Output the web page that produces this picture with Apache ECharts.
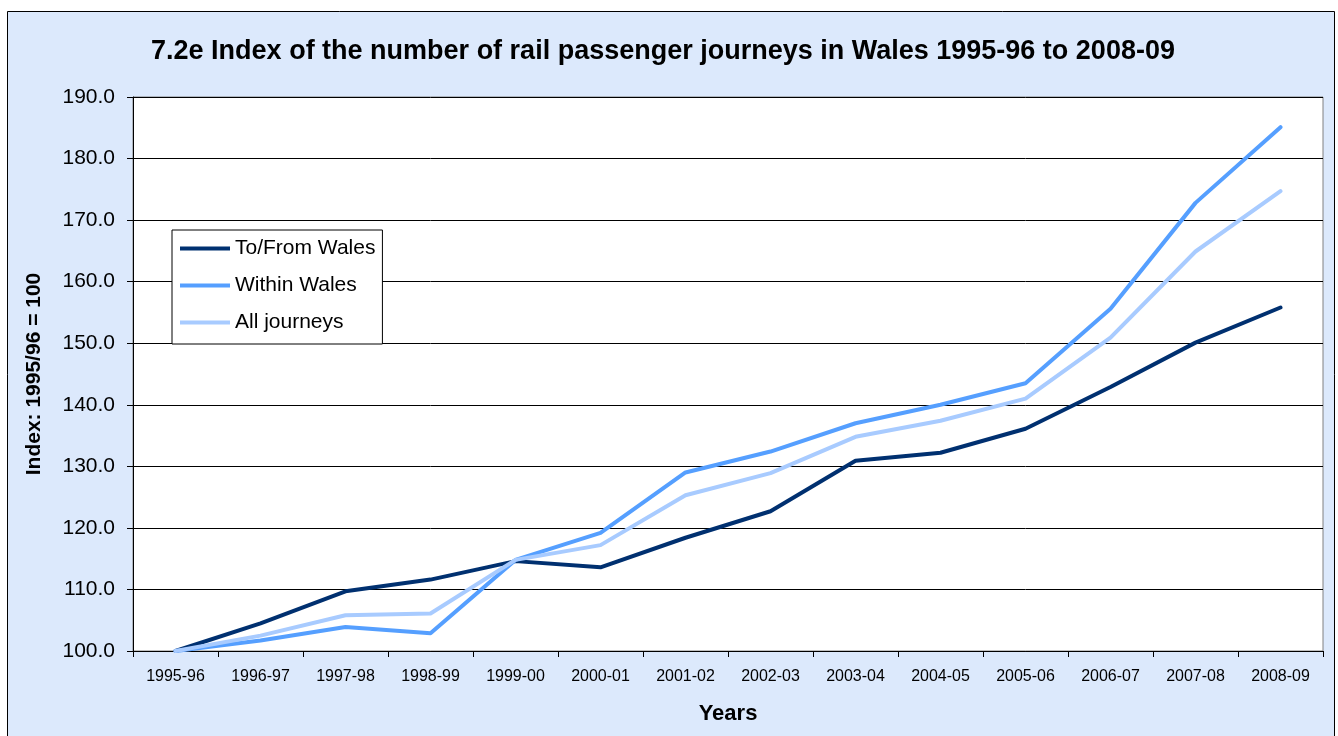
<!DOCTYPE html>
<html>
<head>
<meta charset="utf-8">
<script src="https://cdn.jsdelivr.net/npm/echarts@6/dist/echarts.min.js"></script>
<style>
html,body{margin:0;padding:0;background:#fff;}
#main{width:1338px;height:736px;}
</style>
</head>
<body>
<div id="main"></div>
<script>
const categories = ['1995-96','1996-97','1997-98','1998-99','1999-00','2000-01','2001-02','2002-03','2003-04','2004-05','2005-06','2006-07','2007-08','2008-09'];
const toFromWales = [100.0, 104.5, 109.7, 111.6, 114.6, 113.6, 118.4, 122.7, 130.9, 132.2, 136.1, 142.9, 150.1, 155.8];
const withinWales = [100.0, 101.7, 103.9, 102.9, 114.8, 119.2, 129.0, 132.4, 137.0, 140.0, 143.5, 155.6, 172.8, 185.1];
const allJourneys = [100.0, 102.5, 105.8, 106.1, 114.8, 117.2, 125.3, 128.9, 134.8, 137.4, 141.0, 150.9, 164.9, 174.7];
const yTicks = {min: 100, max: 190, interval: 10};

const chart = echarts.init(document.getElementById('main'), null, {renderer: 'canvas'});
const font = 'Arial, "Liberation Sans", sans-serif';
const mk = (name, data, color) => ({
  name, type: 'line', data, symbol: 'none', smooth: false,
  lineStyle: {color, width: 4, cap: 'round', join: 'round'},
  itemStyle: {color},
  emphasis: {disabled: true}
});
chart.setOption({
  animation: false,
  backgroundColor: '#ffffff',
  graphic: [{
    type: 'rect', z: -10, silent: true,
    shape: {x: 7.5, y: 11.5, width: 1327, height: 740},
    style: {fill: '#DCE9FC', stroke: '#000', lineWidth: 1}
  }],
  title: {
    text: '7.2e Index of the number of rail passenger journeys in Wales 1995-96 to 2008-09',
    left: 658, top: 33, textAlign: 'center',
    textStyle: {fontFamily: font, fontWeight: 'bold', fontSize: 27, color: '#000'}
  },
  legend: {
    orient: 'vertical', left: 172, top: 230,
    backgroundColor: '#fff', borderColor: '#000', borderWidth: 1, borderRadius: 0,
    padding: [8, 7, 11, 8],
    itemWidth: 50, itemHeight: 4, itemGap: 16,
    icon: 'rect',
    textStyle: {fontFamily: font, fontSize: 21, color: '#000'},
    data: ['To/From Wales', 'Within Wales', 'All journeys']
  },
  grid: {
    left: 133, top: 97, right: 15, bottom: 85,
    show: true, backgroundColor: '#fff', borderColor: '#808080', borderWidth: 1
  },
  xAxis: {
    type: 'category', data: categories, boundaryGap: true,
    name: 'Years', nameLocation: 'middle', nameGap: 52,
    nameTextStyle: {fontFamily: font, fontWeight: 'bold', fontSize: 22, color: '#000'},
    axisLine: {lineStyle: {color: '#000', width: 1}},
    axisTick: {show: true, length: 6, inside: false, alignWithLabel: false, lineStyle: {color: '#000'}},
    axisLabel: {fontFamily: font, fontSize: 16, color: '#000', margin: 18, interval: 0},
    splitLine: {show: false}
  },
  yAxis: {
    type: 'value', min: yTicks.min, max: yTicks.max, interval: yTicks.interval,
    name: 'Index: 1995/96 = 100', nameLocation: 'middle', nameGap: 88, nameRotate: 90,
    nameTextStyle: {fontFamily: font, fontWeight: 'bold', fontSize: 21, color: '#000'},
    axisLine: {show: true, lineStyle: {color: '#000', width: 1}},
    axisTick: {show: true, length: 6, lineStyle: {color: '#000'}},
    axisLabel: {fontFamily: font, fontSize: 21, color: '#000', margin: 18, formatter: v => v.toFixed(1)},
    splitLine: {show: true, lineStyle: {color: '#000', width: 1}}
  },
  series: [
    mk('To/From Wales', toFromWales, '#003070'),
    mk('Within Wales', withinWales, '#559FFF'),
    mk('All journeys', allJourneys, '#A8CBFF')
  ]
});
</script>
</body>
</html>
